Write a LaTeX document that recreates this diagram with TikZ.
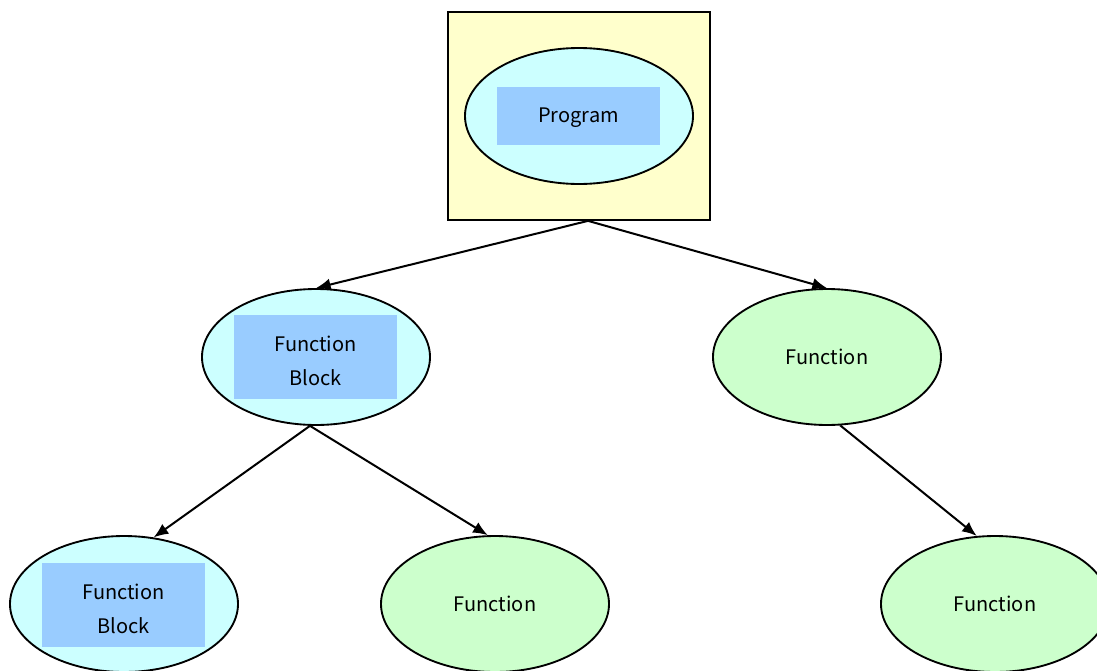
\documentclass[tikz,border=0pt]{standalone}
\usepackage{fontspec}
\setmainfont{Noto Sans CJK JP}
\usetikzlibrary{shapes.geometric,arrows.meta}
\definecolor{boxyellow}{HTML}{FFFFCC}
\definecolor{blockcyan}{HTML}{CCFFFF}
\definecolor{funcgreen}{HTML}{CCFFCC}
\definecolor{labelblue}{HTML}{99CCFF}
\tikzset{
  oval/.style={ellipse, draw=black, line width=1.4pt, inner sep=0pt,
               minimum width=171pt, minimum height=102pt,
               font=\fontsize{15}{25.5}\selectfont, align=center},
  blockoval/.style={oval, fill=blockcyan},
  funcoval/.style={oval, fill=funcgreen},
  tag/.style={fill=labelblue, inner sep=0pt, minimum width=122.25pt},
  tagtext/.style={font=\fontsize{15}{25.5}\selectfont, align=center, inner sep=0pt},
  link/.style={line width=1.5pt, -{Latex[length=11pt,width=9pt]}}
}
\begin{document}
\begin{tikzpicture}[x=0.75pt, y=-0.75pt]
  \useasboundingbox (0,0) rectangle (1097,671);
  \clip (0,0) rectangle (1097,671);

  % program frame
  \node[draw=black, line width=1.3pt, fill=boxyellow, minimum width=196.5pt,
        minimum height=156pt, inner sep=0pt] (frame) at (579,116) {};
  \node[blockoval] (prog) at (579,116) {};
  \node[tag, minimum height=43.5pt] (progtag) at (578.5,116) {};
  \node[tagtext] (progtext) at (578.5,118) {Program};

  % second level
  \node[blockoval] (fb1) at (316,357) {};
  \node[tag, minimum height=63pt] (fb1tag) at (315.5,357) {};
  \node[tagtext] (fb1text) at (315.5,361) {Function\\Block};
  \node[funcoval] (f1) at (827,357) {Function};

  % third level
  \node[blockoval] (fb2) at (124,604) {};
  \node[tag, minimum height=63pt] (fb2tag) at (123.5,605) {};
  \node[tagtext] (fb2text) at (123.5,609) {Function\\Block};
  \node[funcoval] (f2) at (495,604) {Function};
  \node[funcoval] (f3) at (995,604) {Function};

  % connectors
  \coordinate (split) at ([xshift=6.75pt]frame.south);
  \draw[link] (split) -- (fb1.north);
  \draw[link] (split) -- (f1.north);
  \draw[link] (fb1.265) -- (fb2.66);
  \draw[link] (fb1.265) -- (f2.96);
  \draw[link] (f1.281) -- (f3.105);
\end{tikzpicture}
\end{document}
